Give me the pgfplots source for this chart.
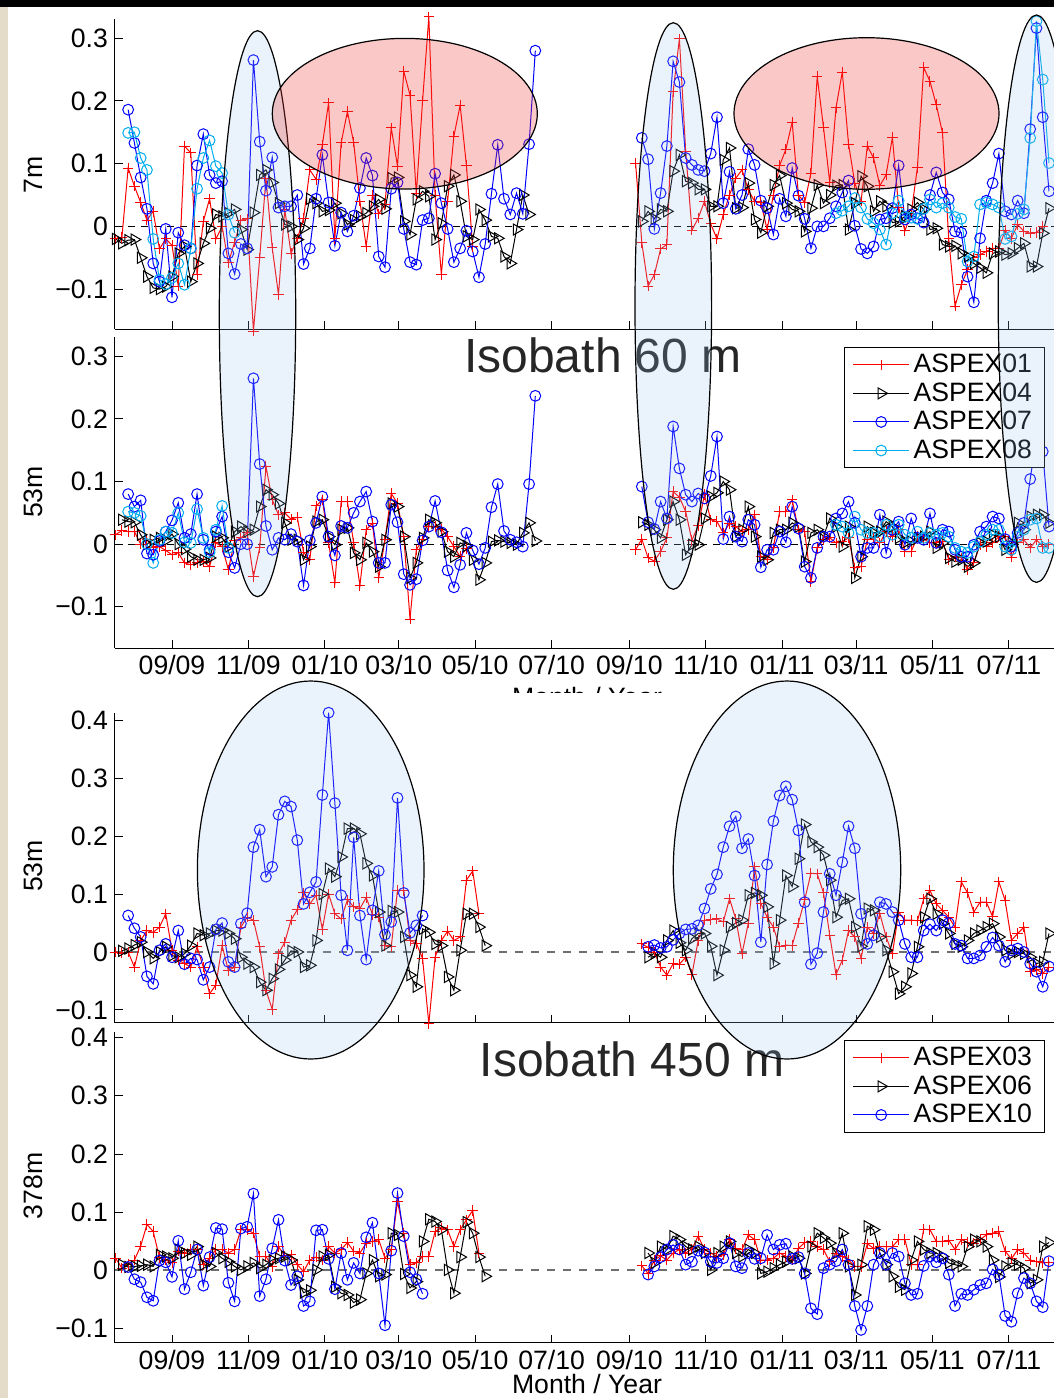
\documentclass[border=0pt]{standalone}
\usepackage{pgfplots}
\pgfplotsset{compat=1.18}
\usepackage{fontspec}
\setmainfont{Liberation Sans}
\definecolor{ellb}{RGB}{150,190,235}
\definecolor{ellp}{RGB}{235,60,55}
\definecolor{beige}{RGB}{228,220,200}
\definecolor{txtgray}{RGB}{38,38,38}
\definecolor{dgray}{RGB}{110,110,110}
\newcommand{\fs}{\fontsize{13.3}{15}\selectfont}
\newcommand{\sg}[3]{\addplot[#1] table[header=false,row sep=\\,x expr={-45+5*(\coordindex+#2)},y index=0]{#3};}
\pgfplotsset{
 pan/.style={scale only axis, width=469.5pt, xmin=-45.5, xmax=704, anchor=north west,
   axis x line=bottom, axis y line=left, axis line style={-, line width=0.5pt, black},
   every outer x axis line/.append style={-}, every outer y axis line/.append style={-},
   tick align=inside, major tick length=4pt, tick style={line width=0.5pt, black},
   xtick={0,61,122,181,242,303,365,426,487,546,607,668},
   ticklabel style={font=\fs}, clip=false, legend cell align=left,
   legend image code/.code={\draw[mark repeat=2,mark phase=2,##1] plot coordinates {(0pt,0pt) (14pt,0pt) (28pt,0pt)};},
   legend style={draw=black, line width=0.5pt, fill=white, font=\fs, anchor=north east, inner xsep=4.25pt, inner ysep=1.5pt, nodes={inner xsep=2pt, inner ysep=1.75pt}, row sep=0pt},
 },
 sA/.style={red, line width=0.5pt, mark=+, mark size=2.6pt},
 sB/.style={black, line width=0.5pt, mark=triangle, mark size=3.2pt, every mark/.append style={rotate=-90}},
 sC/.style={blue, line width=0.5pt, mark=o, mark size=2.7pt},
 sD/.style={cyan, line width=0.5pt, mark=o, mark size=2.7pt},
 xl/.style={xticklabels={09/09,11/09,01/10,03/10,05/10,07/10,09/10,11/10,01/11,03/11,05/11,07/11}},
 xn/.style={xticklabels={}},
 ya/.style={ytick={-0.1,0,0.1,0.2,0.3}, yticklabels={−0.1,0,0.1,0.2,0.3}},
 yb/.style={ytick={-0.1,0,0.1,0.2,0.3,0.4}, yticklabels={−0.1,0,0.1,0.2,0.3,0.4}},
}
\begin{document}
\begin{tikzpicture}
\begin{scope}[x=0.5pt,y=-0.5pt]
\fill[white] (0,0) rectangle (1054,1398);
\fill[beige] (0,0) rectangle (8,1398);
\end{scope}

% ---------------- Panel 1 (7m)
\begin{axis}[pan, at={(57.5pt,-9.65pt)}, height=155pt, ymin=-0.164, ymax=0.330, xn, ya]
\addplot[black, line width=0.4pt, dash pattern=on 3.5pt off 3pt, forget plot] coordinates {(-45.5,0) (704,0)};
\sg{sA}{0}{-0.02\\-0.018\\0.093\\0.064\\0.038\\0.01\\0.024\\-0.036\\-0.02\\-0.03\\-0.095\\0.128\\0.117\\-0.077\\0.008\\0.044\\-0.02\\0.0\\-0.058\\-0.025\\0.01\\0.012\\-0.167\\-0.05\\0.077\\-0.034\\-0.109\\0.027\\-0.043\\-0.02\\0.013\\0.09\\0.075\\0.13\\0.197\\-0.019\\0.133\\0.183\\0.134\\0.04\\-0.032\\0.05\\0.02\\0.035\\0.157\\0.096\\0.247\\0.209\\0.052\\0.2\\0.334\\0.05\\-0.077\\0.04\\0.144\\0.193\\0.097\\-0.032\\}
\sg{sB}{0}{-0.02\\-0.027\\-0.022\\-0.021\\-0.05\\-0.08\\-0.098\\-0.1\\-0.096\\-0.08\\-0.043\\-0.032\\-0.088\\-0.059\\-0.027\\-0.003\\0.019\\0.016\\0.021\\0.027\\-0.005\\-0.037\\0.022\\0.082\\0.09\\0.07\\0.037\\0.003\\0.0\\-0.021\\-0.003\\0.044\\0.037\\0.024\\0.026\\0.037\\0.021\\0.003\\0.01\\0.016\\0.021\\0.032\\0.043\\0.028\\0.077\\0.078\\0.008\\-0.013\\0.043\\0.056\\0.048\\-0.021\\0.005\\0.064\\0.082\\0.04\\-0.016\\-0.021\\0.027\\0.01\\-0.016\\-0.019\\-0.048\\-0.059\\-0.005\\0.05\\0.019\\}
\sg{sC}{2}{0.186\\0.133\\0.078\\0.028\\-0.059\\-0.088\\-0.004\\-0.113\\-0.01\\-0.03\\-0.035\\0.097\\0.147\\0.082\\0.069\\0.072\\-0.043\\-0.076\\-0.028\\-0.035\\0.265\\0.135\\0.057\\0.11\\0.03\\0.032\\0.032\\0.05\\-0.06\\-0.035\\0.044\\0.114\\0.038\\-0.031\\0.022\\-0.008\\0.017\\0.061\\0.109\\0.081\\-0.048\\-0.065\\0.06\\0.07\\-0.004\\-0.057\\-0.061\\0.01\\0.013\\0.084\\0.037\\-0.004\\-0.057\\-0.035\\-0.007\\-0.04\\-0.081\\-0.028\\0.052\\0.13\\0.044\\0.019\\0.053\\0.02\\0.131\\0.28\\}
\sg{sD}{2}{0.149\\0.15\\0.109\\0.09\\-0.02\\-0.085\\-0.092\\-0.082\\-0.059\\-0.093\\-0.035\\0.06\\0.109\\0.137\\0.096\\0.085\\0.019\\-0.01\\}
\sg{sA}{83}{0.101\\-0.026\\-0.095\\-0.077\\-0.036\\-0.029\\0.215\\0.299\\0.12\\-0.006\\0.013\\0.04\\0.004\\-0.02\\0.019\\0.05\\0.077\\0.09\\0.058\\0.04\\0.038\\-0.005\\0.05\\0.097\\0.123\\0.166\\0.05\\0.038\\0.085\\0.239\\0.158\\0.07\\0.189\\0.246\\0.131\\0.069\\0.04\\0.128\\0.109\\0.065\\0.082\\0.142\\0.03\\-0.007\\0.021\\0.094\\0.253\\0.231\\0.194\\0.149\\-0.02\\-0.127\\-0.093\\-0.069\\-0.05\\-0.045\\-0.04\\-0.035\\-0.035\\-0.006\\-0.019\\0.003\\-0.008\\-0.011\\-0.01\\0.0\\}
\sg{sB}{84}{0.008\\0.024\\0.012\\0.027\\0.024\\0.088\\0.114\\0.072\\0.069\\0.059\\0.059\\0.032\\0.032\\0.106\\0.125\\0.029\\0.03\\0.069\\0.011\\-0.01\\0.032\\0.066\\0.081\\0.037\\0.027\\0.024\\-0.008\\0.029\\0.066\\0.037\\0.05\\0.065\\0.066\\-0.005\\0.037\\0.08\\0.064\\0.024\\0.04\\0.032\\0.006\\0.008\\0.016\\0.027\\0.038\\0.027\\-0.005\\-0.003\\-0.029\\-0.032\\-0.031\\-0.043\\-0.048\\-0.059\\-0.066\\-0.074\\-0.043\\-0.04\\-0.045\\-0.043\\-0.035\\-0.027\\-0.064\\-0.064\\-0.011\\0.029\\}
\sg{sC}{84}{0.141\\0.107\\-0.004\\0.053\\0.128\\0.263\\0.23\\0.109\\0.098\\0.09\\0.088\\0.116\\0.174\\0.037\\0.087\\0.028\\0.05\\0.123\\0.098\\0.041\\0.029\\-0.013\\0.044\\0.016\\0.093\\0.049\\0.012\\-0.035\\0.0\\0.0\\0.013\\0.032\\0.054\\0.073\\0.001\\-0.036\\-0.043\\-0.032\\0.011\\0.013\\0.029\\0.097\\0.011\\0.019\\0.013\\0.006\\0.05\\0.086\\0.054\\0.043\\-0.008\\-0.01\\-0.08\\-0.121\\-0.019\\0.041\\0.069\\0.116\\0.024\\0.019\\0.041\\0.021\\0.155\\0.316\\0.174\\0.056\\}
\sg{sD}{115}{0.021\\0.025\\0.032\\0.045\\0.03\\0.012\\0.005\\-0.005\\-0.029\\0.021\\0.041\\0.015\\0.014\\0.012\\0.028\\0.043\\0.03\\0.037\\0.03\\0.015\\0.012\\-0.056\\-0.048\\0.035\\0.038\\0.035\\0.03\\-0.02\\-0.016\\0.02\\0.027\\0.141\\0.327\\0.234\\0.101\\}
\end{axis}

% ---------------- Panel 2 (53m, isobath 60)
\begin{axis}[pan, at={(57.5pt,-168.5pt)}, height=155.5pt, ymin=-0.166, ymax=0.331, xl, ya,
  legend style={at={(0.9904,0.9678)}}]
\addplot[black, line width=0.4pt, dash pattern=on 3.5pt off 3pt, forget plot] coordinates {(-45.5,0) (704,0)};
\sg{sA}{0}{0.015\\0.022\\0.02\\0.02\\0.0\\0.008\\-0.006\\-0.004\\-0.01\\-0.017\\-0.014\\-0.03\\-0.033\\-0.03\\-0.028\\-0.036\\0.002\\-0.004\\-0.041\\0.006\\0.01\\0.018\\-0.052\\-0.006\\0.124\\0.071\\0.047\\0.05\\0.04\\0.043\\-0.013\\-0.025\\0.061\\0.071\\0.002\\-0.062\\0.068\\0.068\\0.002\\-0.066\\0.023\\0.033\\-0.054\\0.007\\0.081\\0.065\\0.012\\-0.12\\-0.009\\0.007\\0.028\\0.028\\0.024\\0.012\\-0.004\\-0.02\\-0.007\\}
\addlegendentry{ASPEX01}
\sg{sB}{1}{0.039\\0.036\\0.035\\0.015\\0.0\\0.007\\0.01\\0.006\\0.016\\0.0\\-0.008\\-0.02\\-0.025\\-0.025\\-0.022\\0.012\\0.01\\-0.004\\0.02\\0.028\\0.02\\0.023\\0.06\\0.087\\0.079\\0.065\\0.034\\0.007\\0.007\\-0.025\\-0.004\\0.036\\0.039\\0.012\\-0.001\\0.023\\0.026\\-0.014\\-0.025\\0.002\\-0.012\\-0.036\\0.007\\0.065\\0.06\\0.012\\-0.054\\-0.03\\0.01\\0.039\\0.034\\0.02\\-0.012\\-0.02\\0.002\\-0.003\\-0.025\\-0.057\\-0.03\\0.004\\0.006\\0.004\\0.002\\-0.001\\0.018\\0.034\\0.005\\}
\addlegendentry{ASPEX04}
\sg{sC}{2}{0.08\\0.06\\0.07\\-0.015\\-0.017\\0.005\\0.02\\0.038\\0.066\\0.01\\0.016\\0.08\\0.007\\-0.009\\0.02\\0.044\\-0.013\\-0.038\\0.0\\0.0\\0.265\\0.128\\0.029\\-0.009\\0.01\\0.007\\0.016\\0.004\\-0.066\\0.006\\0.034\\0.076\\0.012\\-0.018\\0.029\\0.026\\0.05\\0.068\\0.084\\0.036\\-0.03\\-0.03\\0.063\\0.035\\-0.048\\-0.065\\-0.056\\0.006\\0.028\\0.069\\0.019\\-0.042\\-0.069\\-0.033\\0.018\\-0.01\\-0.032\\-0.006\\0.059\\0.096\\0.021\\0.007\\0.003\\-0.004\\0.096\\0.237\\}
\addlegendentry{ASPEX07}
\sg{sD}{2}{0.052\\0.05\\0.045\\0.0\\-0.03\\0.007\\0.02\\0.018\\0.05\\0.003\\0.002\\0.056\\0.01\\-0.013\\0.023\\0.061\\-0.006\\}
\addlegendentry{ASPEX08}
\sg{sA,forget plot}{83}{-0.009\\0.008\\-0.022\\-0.027\\-0.012\\0.01\\0.084\\0.075\\0.052\\0.006\\0.03\\0.079\\0.039\\0.036\\0.018\\0.033\\0.028\\0.02\\0.023\\0.047\\-0.02\\-0.025\\-0.006\\0.052\\0.052\\0.071\\0.023\\0.02\\-0.06\\-0.006\\0.007\\0.01\\0.002\\0.004\\0.01\\-0.038\\-0.036\\0.007\\0.01\\0.002\\0.02\\0.012\\0.023\\-0.012\\-0.012\\0.012\\0.008\\0.002\\0.002\\0.004\\-0.025\\-0.02\\-0.022\\-0.041\\-0.03\\-0.001\\-0.004\\0.002\\0.012\\0.012\\-0.021\\0.002\\0.007\\-0.006\\0.007\\-0.004\\0.0\\}
\sg{sB,forget plot}{84}{0.035\\0.031\\0.023\\0.01\\0.039\\0.068\\0.039\\-0.017\\-0.001\\-0.001\\0.041\\0.076\\0.082\\0.1\\0.087\\0.012\\0.023\\0.06\\0.012\\-0.02\\-0.025\\0.018\\0.023\\0.023\\0.034\\0.028\\-0.028\\0.018\\0.023\\0.012\\0.041\\0.028\\-0.004\\0.028\\-0.054\\-0.02\\0.028\\0.018\\0.02\\0.036\\0.028\\0.01\\0.002\\0.004\\0.01\\0.012\\0.02\\-0.006\\0.002\\-0.022\\-0.028\\-0.025\\-0.036\\-0.03\\0.002\\0.004\\0.015\\0.012\\-0.009\\0.002\\0.034\\0.023\\0.044\\0.047\\0.047\\0.034\\}
\sg{sC,forget plot}{84}{0.092\\0.035\\0.024\\0.068\\0.041\\0.188\\0.121\\0.079\\0.068\\0.081\\0.073\\0.109\\0.172\\0.008\\0.044\\0.012\\0.004\\0.039\\0.031\\-0.037\\-0.009\\-0.009\\0.02\\0.003\\0.06\\0.025\\-0.036\\-0.054\\-0.006\\0.012\\0.012\\0.041\\0.049\\0.068\\0.034\\-0.02\\-0.006\\-0.006\\0.047\\-0.014\\0.023\\0.036\\-0.001\\0.041\\0.01\\0.007\\0.049\\0.002\\0.023\\0.02\\-0.009\\-0.02\\-0.02\\-0.001\\0.02\\0.028\\0.044\\0.041\\0.008\\-0.004\\0.018\\0.034\\0.104\\0.17\\0.148\\0.028\\}
\sg{sD,forget plot}{115}{0.031\\0.028\\0.018\\0.044\\0.023\\0.018\\0.018\\0.012\\0.031\\0.015\\0.031\\0.015\\0.01\\0.02\\0.01\\0.018\\0.015\\0.018\\0.012\\-0.006\\-0.012\\-0.014\\-0.004\\0.004\\0.015\\0.023\\0.023\\-0.004\\-0.009\\0.012\\0.023\\0.039\\0.041\\-0.006\\-0.006\\}
\end{axis}

\begin{scope}[x=0.5pt,y=-0.5pt]
\node[anchor=base, font=\fs] at (587,706) {Month / Year};
\node[anchor=base, font=\fontsize{24}{28}\selectfont, text=txtgray] at (603,372) {Isobath 60 m};
\fill[white] (8,693) rectangle (1054,1398);
\end{scope}

% ---------------- Panel 3 (53m, isobath 450)
\begin{axis}[pan, at={(57.5pt,-356.35pt)}, height=155pt, ymin=-0.122, ymax=0.413, xn, yb]
\addplot[dgray, line width=1pt, dash pattern=on 4pt off 4pt, forget plot] coordinates {(-45.5,0) (704,0)};
\sg{sA}{0}{0.0\\-0.002\\0.0\\-0.026\\0.02\\0.037\\0.034\\0.043\\0.066\\0.003\\-0.014\\-0.02\\-0.026\\0.009\\-0.026\\-0.072\\-0.057\\0.011\\-0.032\\-0.026\\0.043\\0.06\\0.055\\0.009\\-0.066\\-0.099\\-0.003\\0.017\\0.055\\0.073\\0.102\\0.083\\0.098\\0.039\\0.1\\0.066\\0.057\\0.09\\0.078\\0.075\\0.094\\0.065\\0.06\\0.011\\0.009\\0.107\\0.106\\0.02\\0.015\\-0.011\\-0.124\\-0.009\\0.02\\0.036\\0.02\\0.026\\0.124\\0.14\\0.066\\}
\sg{sB}{1}{0.002\\0.006\\0.012\\0.017\\0.0\\-0.011\\0.0\\0.009\\-0.006\\-0.009\\-0.003\\0.011\\0.032\\0.029\\0.032\\0.037\\0.037\\0.032\\0.023\\-0.009\\-0.02\\-0.026\\-0.052\\-0.066\\-0.046\\-0.03\\-0.014\\0.002\\0.0\\-0.026\\-0.023\\0.02\\0.1\\0.144\\0.13\\0.164\\0.213\\0.213\\0.204\\0.153\\0.132\\0.069\\0.011\\0.071\\0.069\\0.026\\-0.04\\-0.06\\0.04\\0.034\\0.014\\0.011\\-0.043\\-0.066\\0.003\\0.066\\0.066\\0.043\\0.011\\}
\sg{sC}{2}{0.063\\0.041\\0.026\\-0.042\\-0.055\\0.003\\0.014\\-0.009\\0.037\\-0.021\\-0.011\\-0.013\\-0.048\\-0.026\\0.039\\0.05\\-0.017\\-0.026\\0.049\\0.067\\0.181\\0.211\\0.13\\0.147\\0.237\\0.26\\0.251\\0.193\\0.083\\0.103\\0.121\\0.271\\0.413\\0.257\\0.098\\0.003\\0.198\\0.063\\-0.013\\0.072\\0.14\\0.03\\0.052\\0.266\\0.102\\0.033\\0.046\\0.063\\}
\sg{sA}{84}{0.014\\0.008\\0.0\\-0.026\\-0.04\\-0.02\\-0.021\\-0.009\\-0.039\\0.02\\0.055\\0.056\\0.057\\0.052\\0.092\\0.057\\-0.003\\0.05\\0.147\\0.084\\0.06\\0.043\\0.009\\0.012\\0.011\\0.05\\0.09\\0.136\\0.135\\0.102\\0.029\\-0.039\\-0.014\\0.037\\0.026\\-0.011\\0.043\\0.032\\0.066\\0.026\\-0.003\\0.069\\0.055\\0.055\\0.054\\0.092\\0.106\\0.083\\0.072\\0.06\\0.043\\0.121\\0.102\\0.069\\0.086\\0.086\\0.061\\0.121\\0.089\\0.02\\0.032\\0.043\\-0.034\\-0.03\\-0.037\\-0.026\\}
\sg{sB}{85}{-0.009\\-0.002\\-0.009\\0.02\\0.037\\0.016\\0.003\\0.023\\0.032\\0.032\\0.01\\-0.04\\0.003\\0.043\\0.05\\0.055\\0.098\\0.102\\0.098\\0.078\\-0.02\\0.055\\0.132\\0.113\\0.161\\0.22\\0.19\\0.181\\0.167\\0.124\\0.06\\0.089\\0.092\\0.043\\0.01\\0.075\\0.072\\0.026\\0.003\\-0.034\\-0.072\\-0.06\\-0.037\\0.009\\0.06\\0.092\\0.066\\0.049\\0.032\\0.014\\0.009\\0.02\\0.032\\0.037\\0.043\\0.049\\0.026\\0.003\\-0.003\\0.0\\-0.003\\-0.009\\-0.02\\-0.017\\0.032\\}
\sg{sC}{85}{0.009\\0.012\\0.007\\0.009\\0.021\\0.032\\0.039\\0.04\\0.046\\0.075\\0.109\\0.134\\0.181\\0.217\\0.234\\0.179\\0.195\\0.132\\0.017\\0.151\\0.226\\0.27\\0.286\\0.263\\0.21\\0.086\\-0.021\\-0.002\\0.069\\0.135\\0.098\\0.155\\0.217\\0.179\\0.066\\0.014\\0.029\\0.086\\0.083\\0.069\\0.055\\0.014\\-0.009\\-0.009\\0.037\\0.048\\0.037\\0.055\\0.05\\0.014\\0.011\\-0.011\\-0.011\\-0.006\\0.009\\0.025\\0.011\\-0.017\\0.003\\0.006\\0.0\\-0.02\\-0.034\\-0.06\\-0.025\\}
\end{axis}

% ---------------- Panel 4 (378m)
\begin{axis}[pan, at={(57.5pt,-515.85pt)}, height=155.5pt, ymin=-0.124, ymax=0.410, xl, yb,
  legend style={at={(0.9904,0.9733)}}]
\addplot[dgray, line width=1pt, dash pattern=on 4pt off 4pt, forget plot] coordinates {(-45.5,0) (704,0)};
\sg{sA}{0}{0.021\\0.004\\0.01\\0.018\\0.042\\0.079\\0.067\\0.022\\0.018\\0.013\\0.033\\0.03\\0.036\\0.036\\0.01\\0.021\\0.036\\0.036\\0.03\\0.036\\0.07\\0.07\\0.064\\0.024\\0.024\\0.007\\0.041\\0.025\\0.027\\0.01\\-0.002\\0.018\\0.023\\0.018\\0.041\\0.03\\0.036\\0.048\\0.033\\0.03\\0.047\\0.05\\0.053\\0.021\\0.036\\0.119\\0.064\\0.01\\0.013\\0.024\\0.024\\0.067\\0.073\\0.07\\0.041\\0.07\\0.087\\0.103\\0.03\\}
\addlegendentry{ASPEX03}
\sg{sB}{1}{0.01\\0.006\\0.007\\0.008\\0.01\\0.007\\0.027\\0.024\\0.021\\0.036\\0.03\\0.027\\0.041\\0.01\\0.007\\0.03\\0.021\\0.015\\0.007\\0.001\\0.007\\0.013\\0.004\\0.01\\0.018\\0.021\\0.024\\0.018\\-0.016\\-0.038\\-0.034\\0.001\\0.024\\0.027\\-0.028\\-0.039\\-0.042\\-0.055\\-0.05\\-0.005\\0.018\\-0.01\\-0.007\\0.064\\0.061\\-0.006\\-0.03\\-0.019\\0.05\\0.088\\0.084\\0.07\\0.001\\-0.039\\0.023\\0.083\\0.064\\0.023\\-0.01\\}
\addlegendentry{ASPEX06}
\sg{sC}{2}{0.006\\-0.015\\-0.02\\-0.046\\-0.052\\0.017\\0.014\\-0.011\\0.051\\-0.032\\-0.003\\0.036\\-0.026\\0.023\\0.073\\0.071\\-0.021\\-0.053\\0.072\\0.075\\0.132\\-0.044\\-0.015\\0.038\\0.087\\0.017\\-0.025\\-0.01\\-0.061\\-0.053\\0.069\\0.07\\0.02\\-0.032\\0.03\\-0.016\\0.013\\-0.005\\0.057\\0.082\\-0.005\\-0.094\\0.034\\0.133\\0.059\\-0.003\\-0.015\\-0.04\\}
\addlegendentry{ASPEX10}
\sg{sA,forget plot}{84}{0.008\\-0.005\\0.018\\0.025\\0.018\\0.03\\0.036\\0.03\\0.037\\0.059\\0.036\\0.03\\0.024\\0.027\\0.053\\0.038\\0.036\\0.061\\0.053\\0.018\\0.018\\0.021\\0.03\\0.024\\0.018\\0.038\\0.048\\0.05\\0.041\\0.036\\0.015\\0.03\\0.024\\0.018\\0.007\\0.007\\0.046\\0.038\\0.041\\0.041\\0.041\\0.053\\0.053\\0.01\\0.01\\0.071\\0.07\\0.05\\0.05\\0.052\\0.036\\0.053\\0.048\\0.047\\0.053\\0.061\\0.064\\0.067\\0.033\\0.02\\0.036\\0.03\\0.018\\0.015\\0.013\\0.014\\}
\sg{sB,forget plot}{85}{0.03\\0.013\\0.041\\0.036\\0.059\\0.053\\0.041\\0.036\\0.041\\0.03\\0.001\\0.03\\0.041\\0.05\\0.03\\0.024\\0.036\\0.03\\-0.005\\-0.002\\0.004\\0.01\\0.015\\0.024\\0.021\\-0.005\\0.041\\0.064\\0.056\\0.047\\0.03\\0.064\\0.007\\-0.042\\0.01\\0.076\\0.07\\0.03\\0.01\\-0.01\\-0.028\\-0.033\\0.018\\0.05\\0.036\\0.03\\0.03\\0.024\\0.013\\0.01\\0.007\\0.041\\0.053\\0.05\\0.041\\0.018\\-0.011\\0.007\\0.013\\0.01\\0.004\\-0.022\\-0.016\\0.041\\0.048\\}
\sg{sC,forget plot}{85}{-0.007\\0.007\\0.023\\0.036\\0.044\\0.036\\0.01\\0.015\\0.034\\0.031\\0.015\\0.013\\0.021\\0.047\\0.007\\0.004\\0.03\\0.02\\0.021\\0.061\\0.036\\0.044\\0.046\\0.02\\0.023\\-0.005\\-0.065\\-0.075\\0.004\\0.01\\0.016\\0.036\\0.01\\-0.061\\-0.102\\-0.061\\0.01\\0.03\\0.01\\0.03\\0.024\\-0.022\\-0.042\\-0.04\\0.008\\0.024\\0.014\\0.021\\-0.007\\-0.061\\-0.04\\-0.042\\-0.033\\-0.025\\-0.022\\0.002\\-0.007\\-0.078\\-0.088\\-0.039\\-0.013\\-0.022\\-0.053\\-0.063\\0.016\\}
\end{axis}

\begin{scope}[x=0.5pt,y=-0.5pt]
\node[anchor=base, font=\fs] at (587,1393) {Month / Year};
\node[anchor=base, font=\fontsize{24}{28}\selectfont, text=txtgray] at (632,1076) {Isobath 450 m};
\node[rotate=90, font=\fs] at (33,175) {7m};
\node[rotate=90, font=\fs] at (33,492) {53m};
\node[rotate=90, font=\fs] at (33,866) {53m};
\node[rotate=90, font=\fs] at (33,1186) {378m};
% ellipses overlay
\draw[fill=ellb, fill opacity=0.2, line width=0.6pt] (257.5,313.7) ellipse [x radius=38.2, y radius=283];
\draw[fill=ellb, fill opacity=0.2, line width=0.6pt] (673.3,306) ellipse [x radius=38.3, y radius=283.3];
\draw[fill=ellb, fill opacity=0.2, line width=0.6pt] (1036.5,298.7) ellipse [x radius=38.3, y radius=283.7];
\draw[fill=ellp, fill opacity=0.28, line width=0.6pt] (404.8,113.7) ellipse [x radius=132.5, y radius=75.3];
\draw[fill=ellp, fill opacity=0.28, line width=0.6pt] (866.5,113.5) ellipse [x radius=132.5, y radius=75.8];
\draw[fill=ellb, fill opacity=0.2, line width=0.6pt] (310.7,870) ellipse [x radius=113.3, y radius=189];
\draw[fill=ellb, fill opacity=0.2, line width=0.6pt] (787,870) ellipse [x radius=113.7, y radius=189];
\fill[black] (0,0) rectangle (1054,7);
\end{scope}
\pgfresetboundingbox
\path[use as bounding box] (0pt,0pt) rectangle (527pt,-699pt);
\end{tikzpicture}
\end{document}
